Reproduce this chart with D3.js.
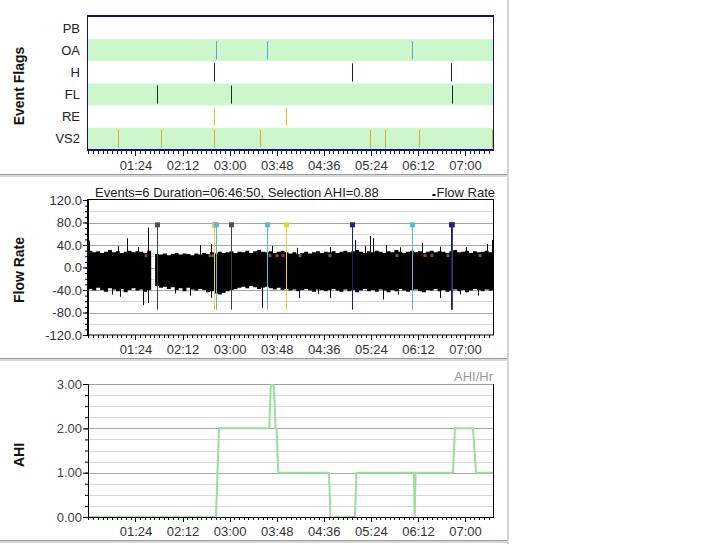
<!DOCTYPE html>
<html><head><meta charset="utf-8">
<script src="https://cdn.jsdelivr.net/npm/d3@7"></script>
<style>
html,body{margin:0;padding:0;background:#fff;}
svg{display:block;font-family:"Liberation Sans",Arial,sans-serif;}
</style></head><body>
<svg id="c" width="721" height="544"></svg>
<script>
// ---------------- DATA ----------------
const flagCategories = ["PB","OA","H","FL","RE","VS2"];
const eventsPB  = [];
const eventsOA  = ["2:47:24","3:39:24","6:07:12"];
const eventsH   = ["2:45:06","5:06:06","6:47:00"];
const eventsFL  = ["1:47:18","3:02:42","6:48:00"];
const eventsRE  = ["2:45:24","3:58:12"];
const eventsVS2 = ["1:07:12","1:51:18","2:45:24","3:32:00","5:24:06","5:39:24","6:14:24","7:28:30"];

const timeDomain = ["0:35:36","7:28:30"];
const timeTickLabels = ["01:24","02:12","03:00","03:48","04:36","05:24","06:12","07:00"];

const flowTicks = [120,80,40,0,-40,-80,-120];
const flowHeader = "Events=6 Duration=06:46:50, Selection AHI=0.88";
const flowLegend = "Flow Rate";
const flowStart = "0:36:00";
const flowStepMin = 4;
const flowUpper = [30,27,29,26,28,31,27,29,26,28,30,27,29,28,26,30,
  null,
  24,23,25,22,24,26,23,25,24,22,25,23,26,24,27,25,28,26,27,29,26,
  28,27,30,26,29,31,28,27,29,26,28,30,27,25,27,24,26,28,25,27,29,26,28,
  27,29,26,28,30,27,29,31,28,26,29,27,30,28,26,29,27,31,28,26,28,30,27,29,26,28,30,27,29,28,26,29,31,27,28,30,26,29,27,28,30,27,29];
const flowLower = [-38,-41,-36,-40,-43,-37,-39,-42,-38,-44,-40,-37,-41,-39,-43,-40,
  null,
  -33,-36,-34,-38,-35,-40,-37,-42,-36,-39,-41,-38,-40,-44,-42,-46,-48,-45,-42,-40,-38,
  -36,-34,-37,-33,-35,-38,-36,-34,-37,-39,-36,-40,-38,-41,-39,-42,-40,-38,-41,-43,-39,-40,-42,
  -40,-38,-41,-43,-39,-42,-40,-44,-41,-38,-42,-40,-43,-39,-41,-44,-40,-42,-38,-41,-43,-40,-39,-42,-44,-40,-41,-38,-42,-40,-43,-41,-39,-42,-40,-44,-41,-38,-40,-42,-39,-41,-40];
const spikeTimes  = ["0:36:36","1:15:06","1:37:06","1:06:12","1:26:36","2:29:48","2:41:00","3:42:54","4:08:42","4:42:18","5:07:48","5:18:00","5:23:06","5:26:12","5:39:24","5:53:42","6:15:48","6:34:30","7:01:00","7:22:00","7:27:30",
                     "1:08:12","1:32:00","1:37:12","1:00:00","2:04:18","2:19:36","2:41:06","3:33:00","4:10:42","4:30:00","4:42:24","5:36:18","5:51:36","6:34:36","6:54:54","7:13:00"];
const spikeValues = [48,52,71,38,36,40,42,38,35,36,49,38,56,52,40,36,44,37,36,42,49,
                     -52,-67,-63,-48,-46,-50,-54,-72,-54,-47,-54,-57,-48,-54,-48,-50];
const redDotTimes   = ["1:34:42","2:40:00","3:48:18","3:54:24","6:19:12","6:26:18"];
const greenDotTimes = ["2:43:00","3:41:06","4:11:42","4:42:18","5:50:36","6:42:36","7:15:18"];
const dotValue = 22;

const ahiTicks = [3,2,1,0];
const ahiLegend = "AHI/Hr";
const ahiTimes  = ["0:35:36","2:46:06","2:49:06","3:40:24","3:41:48","3:42:42","3:44:24","3:45:18","3:46:48","3:47:48","3:49:36",
                   "4:41:18","4:42:48","5:07:48","5:09:18","6:08:00","6:08:36","6:09:36","6:47:42","6:49:42","7:08:06","7:11:12","7:28:30"];
const ahiValues = [0,0,2,2,2.9,2.98,2.98,2.9,2,2,1,
                   1,0,0,1,1,0,1,1,2,2,1,1];

// ---------------- HELPERS ----------------
const toMin = s => { const p = s.split(":").map(Number); return p[0]*60 + p[1] + (p[2]||0)/60; };
const svg = d3.select("#c");
const X0 = 88, X1 = 493;
const xs = d3.scaleLinear().domain(timeDomain.map(toMin)).range([X0, X1]);
const majorTicks = timeTickLabels.map(toMin);
const minorTicks = [];
{
  const d = xs.domain();
  for (let t = majorTicks[0]; t >= d[0]; t -= 4.8) minorTicks.push(t);
  for (let t = majorTicks[0] + 4.8; t <= d[1]; t += 4.8) minorTicks.push(t);
}
const fmtTime = t => { const h = Math.floor(t/60), m = Math.round(t - h*60); return String(h).padStart(2,"0")+":"+String(m).padStart(2,"0"); };

function timeAxis(yPos, color) {
  const gMinor = svg.append("g").attr("transform", `translate(0,${yPos})`)
    .call(d3.axisBottom(xs).tickValues(minorTicks).tickSize(3).tickSizeOuter(0).tickFormat(""));
  const gMajor = svg.append("g").attr("transform", `translate(0,${yPos})`)
    .call(d3.axisBottom(xs).tickValues(majorTicks).tickSize(5).tickSizeOuter(0).tickPadding(5).tickFormat(fmtTime));
  [gMinor, gMajor].forEach(g => {
    g.select(".domain").remove();
    g.selectAll("line").attr("stroke", color).attr("shape-rendering","crispEdges");
    g.selectAll("text").attr("fill","#333").attr("font-size",13).attr("font-family",'"Liberation Sans",Arial,sans-serif');
  });
}
function yTitle(txt, cy) {
  svg.append("text").attr("transform",`translate(18.5,${cy}) rotate(-90)`)
    .attr("text-anchor","middle").attr("dominant-baseline","central")
    .attr("font-size",14).attr("font-weight","bold").attr("fill","#111").text(txt);
}
function separator(y) {
  svg.append("rect").attr("x",0).attr("y",y).attr("width",508).attr("height",1).attr("fill","#9a9a9a");
  svg.append("rect").attr("x",0).attr("y",y+1).attr("width",508).attr("height",2).attr("fill","#d8d8d8");
}

// ---------------- PANEL 1: EVENT FLAGS ----------------
const navy = "#101466";
const yFlag = d3.scaleBand().domain(flagCategories).range([17, 150]).padding(0);
svg.append("g").selectAll("rect").data(flagCategories).join("rect")
  .attr("x", X0).attr("width", X1 - X0)
  .attr("y", d => yFlag(d)).attr("height", yFlag.bandwidth())
  .attr("fill", (d,i) => i % 2 === 1 ? "#cdf6cd" : "#ffffff");

const flagSeries = [
  {cat:"PB", times:eventsPB, color:"#333"},
  {cat:"OA", times:eventsOA, color:"#4aa8dc"},
  {cat:"H", times:eventsH, color:"#12127a"},
  {cat:"FL", times:eventsFL, color:"#1e2e1e"},
  {cat:"RE", times:eventsRE, color:"#f0c020"},
  {cat:"VS2", times:eventsVS2, color:"#e0a428"}
];
flagSeries.forEach(s => {
  svg.append("g").selectAll("line").data(s.times).join("line")
    .attr("x1", d => Math.round(xs(toMin(d))) - 0.5).attr("x2", d => Math.round(xs(toMin(d))) - 0.5)
    .attr("y1", yFlag(s.cat) + 2).attr("y2", yFlag(s.cat) + yFlag.bandwidth() - 2)
    .attr("stroke", s.color).attr("stroke-width", 1);
});
svg.append("g").selectAll("text").data(flagCategories).join("text")
  .attr("x", 80).attr("y", d => yFlag(d) + yFlag.bandwidth()/2)
  .attr("text-anchor","end").attr("dominant-baseline","central")
  .attr("font-size",13).attr("fill","#222").text(d => d);
// border
svg.append("rect").attr("x",87).attr("y",15).attr("width",407).attr("height",2).attr("fill",navy);
svg.append("rect").attr("x",87).attr("y",149).attr("width",407).attr("height",2).attr("fill",navy);
svg.append("rect").attr("x",87).attr("y",15).attr("width",1).attr("height",136).attr("fill",navy);
svg.append("rect").attr("x",493).attr("y",15).attr("width",1).attr("height",136).attr("fill",navy);
timeAxis(151, navy);
yTitle("Event Flags", 86);

separator(174);

// ---------------- PANEL 2: FLOW RATE ----------------
const yFlow = d3.scaleLinear().domain([-120,120]).range([335,200]);
svg.append("defs").append("clipPath").attr("id","clipFlow")
  .append("rect").attr("x",X0).attr("y",200).attr("width",X1-X0).attr("height",135);
svg.append("g").selectAll("line").data(d3.range(-100,101,20)).join("line")
  .attr("x1",X0).attr("x2",X1).attr("y1",d=>Math.round(yFlow(d))+0.5).attr("y2",d=>Math.round(yFlow(d))+0.5)
  .attr("stroke", d => d % 40 === 0 ? "#a6a6a6" : "#d6d6d6");
const gFlow = svg.append("g").attr("clip-path","url(#clipFlow)");
const fs = toMin(flowStart);
const flowPts = flowUpper.map((u,i) => ({t: fs + i*flowStepMin, u, l: flowLower[i]}));
// close each defined run so the last step reaches its full width
const flowRuns = [];
flowPts.forEach((d,i) => {
  if (d.u === null) { flowRuns.push({t:d.t, u:null, l:null}); return; }
  flowRuns.push(d);
  const nx = flowPts[i+1];
  if (!nx || nx.u === null) flowRuns.push({t:d.t + flowStepMin, u:d.u, l:d.l});
});
gFlow.append("path").datum(flowRuns)
  .attr("d", d3.area().defined(d => d.u !== null).curve(d3.curveStepAfter)
    .x(d => xs(d.t)).y0(d => yFlow(d.l)).y1(d => yFlow(d.u)))
  .attr("fill","#000");
gFlow.selectAll("line.s").data(spikeTimes.map((t,i)=>({t:toMin(t), v:spikeValues[i]}))).join("line").attr("class","s")
  .attr("x1", d => Math.round(xs(d.t))+0.5).attr("x2", d => Math.round(xs(d.t))+0.5)
  .attr("y1", yFlow(0)).attr("y2", d => yFlow(d.v)).attr("stroke","#000").attr("stroke-width",1);
gFlow.selectAll("rect.r").data(redDotTimes).join("rect").attr("class","r")
  .attr("x", d => xs(toMin(d)) - 1.5).attr("y", yFlow(dotValue) - 1).attr("width",3).attr("height",3).attr("fill","#b83030");
gFlow.selectAll("rect.g").data(greenDotTimes).join("rect").attr("class","g")
  .attr("x", d => xs(toMin(d)) - 1.5).attr("y", yFlow(dotValue) - 1).attr("width",3).attr("height",3).attr("fill","#2f7f2f");
// event markers
const markerSeries = [
  {times:eventsFL, color:"#404040", sq:"#505050"},
  {times:eventsH, color:"#1a1a9a", sq:"#22228a"},
  {times:eventsRE, color:"#f0d030", sq:"#f0d030"},
  {times:eventsOA, color:"#5ab6e6", sq:"#5ab6e6"}
];
markerSeries.forEach(s => {
  const g = svg.append("g");
  g.selectAll("line").data(s.times).join("line")
    .attr("x1", d => Math.round(xs(toMin(d)))-0.5).attr("x2", d => Math.round(xs(toMin(d)))-0.5)
    .attr("y1", yFlow(75)).attr("y2", yFlow(-75)).attr("stroke", s.color).attr("stroke-width",1);
  g.selectAll("rect").data(s.times).join("rect")
    .attr("x", d => Math.round(xs(toMin(d))) - 3).attr("y", yFlow(75) - 3)
    .attr("width",5).attr("height",5).attr("fill", s.sq);
});
svg.append("rect").attr("x",X0-0.5).attr("y",199.5).attr("width",X1-X0+1).attr("height",135.5)
  .attr("fill","none").attr("stroke","#000").attr("stroke-width",1);
{
  const gm = svg.append("g").attr("transform",`translate(${X0},0)`)
    .call(d3.axisLeft(yFlow).tickValues(d3.range(-120,121,10)).tickSize(3).tickSizeOuter(0).tickFormat(""));
  const gM = svg.append("g").attr("transform",`translate(${X0},0)`)
    .call(d3.axisLeft(yFlow).tickValues(flowTicks).tickSize(5).tickSizeOuter(0).tickPadding(1).tickFormat(d => d.toFixed(1)));
  [gm,gM].forEach(g => { g.select(".domain").attr("stroke","#000"); g.selectAll("line").attr("stroke","#000");
    g.selectAll("text").attr("fill","#333").attr("font-size",13).attr("font-family",'"Liberation Sans",Arial,sans-serif'); });
}
timeAxis(335, "#000");
svg.append("text").attr("x",95).attr("y",197).attr("font-size",13).attr("fill","#222").text(flowHeader);
{
  const t = svg.append("text").attr("x",495).attr("y",197).attr("text-anchor","end").attr("font-size",13).attr("fill","#222").text(flowLegend);
  const w = t.node().getComputedTextLength();
  svg.append("rect").attr("x",495 - w - 4).attr("y",194).attr("width",3).attr("height",2).attr("fill","#000");
}
yTitle("Flow Rate", 270);

separator(358);

// ---------------- PANEL 3: AHI ----------------
const yAhi = d3.scaleLinear().domain([0,3]).range([517,384]);
svg.append("g").selectAll("line").data(d3.range(0.25,3,0.25)).join("line")
  .attr("x1",X0).attr("x2",X1).attr("y1",d=>Math.round(yAhi(d))+0.5).attr("y2",d=>Math.round(yAhi(d))+0.5)
  .attr("stroke", d => d % 1 === 0 ? "#a6a6a6" : "#d8d8d8");
svg.append("line").attr("x1",X0).attr("x2",X1).attr("y1",384.5).attr("y2",384.5).attr("stroke","#a0a0a0");
svg.append("path").datum(ahiTimes.map((t,i)=>({t:toMin(t), v:ahiValues[i]})))
  .attr("d", d3.line().x(d => xs(d.t)).y(d => yAhi(d.v)))
  .attr("fill","none").attr("stroke","#98df98").attr("stroke-width",2).attr("stroke-linejoin","round");
svg.append("line").attr("x1",493.5).attr("x2",493.5).attr("y1",384).attr("y2",517).attr("stroke","#000");
svg.append("line").attr("x1",X0-0.5).attr("x2",X1+1).attr("y1",517.5).attr("y2",517.5).attr("stroke","#000");
{
  const gm = svg.append("g").attr("transform",`translate(${X0},0)`)
    .call(d3.axisLeft(yAhi).tickValues(d3.range(0,3.01,0.25)).tickSize(3).tickSizeOuter(0).tickFormat(""));
  const gM = svg.append("g").attr("transform",`translate(${X0},0)`)
    .call(d3.axisLeft(yAhi).tickValues(ahiTicks).tickSize(5).tickSizeOuter(0).tickPadding(1).tickFormat(d => d.toFixed(2)));
  [gm,gM].forEach(g => { g.select(".domain").attr("stroke","#000"); g.selectAll("line").attr("stroke","#000");
    g.selectAll("text").attr("fill","#444").attr("font-size",13).attr("font-family",'"Liberation Sans",Arial,sans-serif'); });
}
timeAxis(517, "#000");
svg.append("text").attr("x",493).attr("y",381).attr("text-anchor","end").attr("font-size",13).attr("fill","#9a9a9a").text(ahiLegend);
yTitle("AHI", 455);

separator(540);
svg.append("rect").attr("x",507).attr("y",0).attr("width",2).attr("height",544).attr("fill","#d4d4d4");
</script>
</body></html>
